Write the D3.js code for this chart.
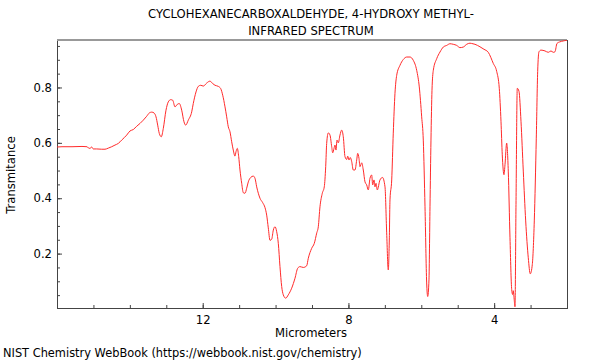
<!DOCTYPE html>
<html>
<head>
<meta charset="utf-8">
<script src="https://cdn.jsdelivr.net/npm/d3@7"></script>
<style>
  html, body { margin: 0; padding: 0; background: #fff; }
  svg text { font-family: "DejaVu Sans", sans-serif; fill: #000; }
</style>
</head>
<body>
<svg id="chart" width="600" height="360"></svg>
<script>
// ---- data ----
const titleLines = ["CYCLOHEXANECARBOXALDEHYDE, 4-HYDROXY METHYL-", "INFRARED SPECTRUM"];
const xLabel = "Micrometers";
const yLabel = "Transmitance";
const footer = "NIST Chemistry WebBook (https://webbook.nist.gov/chemistry)";
const xTickLabels = [12, 8, 4];
const yTickLabels = [0.2, 0.4, 0.6, 0.8];

const wavelength = [
16.000,15.863,15.588,15.314,15.176,15.141,15.094,15.047,15.004,14.910,14.773,14.682,14.592,14.498,14.408,14.317,14.224,14.087,13.996,13.906,
13.812,13.722,13.631,13.538,13.466,13.400,13.337,13.282,13.236,13.192,13.137,13.082,13.008,12.945,12.879,12.824,12.761,12.698,12.643,12.577,
12.514,12.467,12.396,12.302,12.259,12.184,12.121,12.055,11.984,11.891,11.800,11.726,11.663,11.572,11.506,11.451,11.388,11.342,11.298,11.251,
11.205,11.161,11.114,11.086,11.051,11.012,10.977,10.930,10.886,10.839,10.793,10.749,10.683,10.612,10.565,10.518,10.474,10.428,10.354,10.290,
10.244,10.200,10.153,10.106,10.062,10.016,9.969,9.925,9.879,9.832,9.788,9.722,9.651,9.558,9.467,9.393,9.330,9.239,9.146,9.102,
9.009,8.937,8.871,8.827,8.781,8.717,8.663,8.624,8.597,8.553,8.506,8.459,8.432,8.396,8.369,8.341,8.314,8.278,8.232,8.185,
8.141,8.094,8.048,8.020,7.985,7.949,7.910,7.867,7.820,7.773,7.746,7.710,7.683,7.636,7.592,7.545,7.499,7.455,7.408,7.362,
7.334,7.298,7.271,7.243,7.208,7.134,7.065,6.996,6.950,6.906,6.878,6.859,6.812,6.769,6.722,6.675,6.585,6.494,6.401,6.310,
6.219,6.126,6.055,5.989,5.945,5.898,5.852,5.824,5.789,5.761,5.734,5.706,5.670,5.577,5.487,5.396,5.303,5.212,5.122,5.028,
4.938,4.847,4.754,4.663,4.617,4.526,4.389,4.279,4.161,4.024,3.930,3.859,3.812,3.777,3.730,3.702,3.656,3.612,3.565,3.518,
3.491,3.475,3.447,3.428,3.400,3.365,3.318,3.263,3.200,3.134,3.063,3.008,2.953,2.898,2.843,2.805,2.769,2.714,2.604,2.514,
2.440,2.376,2.330,2.275,2.193,2.102,2.014,2.000
];
const transmittance = [
0.585,0.586,0.586,0.587,0.586,0.582,0.580,0.585,0.578,0.578,0.577,0.577,0.581,0.586,0.592,0.598,0.610,0.628,0.643,0.648,
0.660,0.670,0.682,0.696,0.708,0.711,0.708,0.694,0.664,0.634,0.622,0.652,0.718,0.748,0.756,0.754,0.730,0.739,0.742,0.718,
0.676,0.664,0.682,0.712,0.742,0.784,0.804,0.808,0.805,0.816,0.823,0.814,0.808,0.804,0.796,0.772,0.730,0.694,0.658,0.640,
0.604,0.574,0.552,0.568,0.580,0.550,0.502,0.454,0.420,0.418,0.436,0.459,0.475,0.480,0.472,0.441,0.418,0.400,0.384,0.366,
0.339,0.293,0.248,0.252,0.285,0.297,0.279,0.237,0.153,0.081,0.051,0.039,0.051,0.075,0.111,0.147,0.153,0.150,0.156,0.183,
0.219,0.237,0.274,0.297,0.369,0.418,0.441,0.514,0.598,0.636,0.628,0.586,0.564,0.580,0.592,0.574,0.610,0.600,0.628,0.646,
0.622,0.550,0.540,0.552,0.538,0.547,0.532,0.502,0.502,0.538,0.562,0.544,0.514,0.528,0.502,0.459,0.448,0.430,0.472,0.484,
0.448,0.466,0.441,0.454,0.430,0.466,0.475,0.441,0.275,0.141,0.249,0.394,0.466,0.635,0.779,0.844,0.880,0.901,0.910,0.910,
0.898,0.862,0.802,0.694,0.610,0.369,0.094,0.045,0.105,0.369,0.610,0.790,0.862,0.904,0.928,0.946,0.952,0.958,0.956,0.952,
0.944,0.946,0.956,0.960,0.959,0.956,0.947,0.938,0.927,0.887,0.858,0.797,0.678,0.557,0.485,0.521,0.599,0.498,0.257,0.070,
0.052,0.066,0.030,0.008,0.377,0.797,0.786,0.678,0.498,0.318,0.185,0.127,0.160,0.318,0.617,0.858,0.929,0.935,0.932,0.927,
0.932,0.927,0.929,0.959,0.965,0.968,0.970,0.970
];

// ---- chart ----
const svg = d3.select("#chart");
const M = { left: 57, right: 567, top: 40, bottom: 308 };

const x = d3.scaleLinear().domain([16, 2]).range([M.left, M.right]);
const y = d3.scaleLinear().domain([0.0035, 0.9715]).range([M.bottom, M.top]);

svg.append("defs").append("clipPath").attr("id", "clip")
  .append("rect").attr("x", M.left).attr("y", M.top).attr("width", M.right - M.left).attr("height", M.bottom - M.top);

// frame
svg.append("rect").attr("x", M.left).attr("y", M.top).attr("width", M.right - M.left).attr("height", M.bottom - M.top)
  .attr("fill", "none").attr("stroke", "#444").attr("stroke-width", 1).attr("shape-rendering", "crispEdges");
svg.append("line").attr("x1", M.left).attr("x2", M.right).attr("y1", M.top).attr("y2", M.top)
  .attr("stroke", "#999").attr("stroke-width", 2);

// x axis (ticks pointing inward)
const xMinor = d3.range(3, 16, 1);
svg.append("g").attr("transform", `translate(0,${M.bottom})`)
  .call(d3.axisBottom(x).tickValues(xMinor).tickSize(-3).tickFormat(""))
  .call(g => { g.select(".domain").remove(); g.selectAll("line").attr("stroke", "#444"); });
svg.append("g").attr("transform", `translate(0,${M.bottom})`)
  .call(d3.axisBottom(x).tickValues(xTickLabels).tickSize(-5).tickPadding(8).tickFormat(d3.format("d")))
  .call(g => {
    g.select(".domain").remove();
    g.selectAll("line").attr("stroke", "#444");
    g.selectAll("text").attr("font-size", "11.6px").attr("font-family", "DejaVu Sans").attr("fill", "#000");
  });

// y axis
const yMinor = d3.range(0.05, 0.96, 0.05);
svg.append("g").attr("transform", `translate(${M.left},0)`)
  .call(d3.axisLeft(y).tickValues(yMinor).tickSize(-3).tickFormat(""))
  .call(g => { g.select(".domain").remove(); g.selectAll("line").attr("stroke", "#444"); });
svg.append("g").attr("transform", `translate(${M.left},0)`)
  .call(d3.axisLeft(y).tickValues(yTickLabels).tickSize(-5).tickPadding(5).tickFormat(d3.format(".1f")))
  .call(g => {
    g.select(".domain").remove();
    g.selectAll("line").attr("stroke", "#444");
    g.selectAll("text").attr("font-size", "11.6px").attr("font-family", "DejaVu Sans").attr("fill", "#000");
  });

// spectrum line
const pts = wavelength.map((w, i) => [w, transmittance[i]]);
svg.append("path").datum(pts)
  .attr("clip-path", "url(#clip)")
  .attr("fill", "none").attr("stroke", "#ff2a2a").attr("stroke-width", 1)
  .attr("d", d3.line().x(d => x(d[0])).y(d => y(d[1])).curve(d3.curveMonotoneX));

// titles and labels
svg.selectAll("text.title").data(titleLines).enter().append("text")
  .attr("class", "title").attr("x", 311).attr("y", (d, i) => 18 + i * 17)
  .attr("text-anchor", "middle").attr("font-size", "11.6px").text(d => d);

svg.append("text").attr("x", 311).attr("y", 337).attr("text-anchor", "middle")
  .attr("font-size", "11.6px").text(xLabel);

svg.append("text").attr("transform", "translate(15,175) rotate(-90)").attr("text-anchor", "middle")
  .attr("font-size", "11.6px").text(yLabel);

svg.append("text").attr("x", 3).attr("y", 357).attr("font-size", "11.4px").text(footer);
</script>
</body>
</html>
